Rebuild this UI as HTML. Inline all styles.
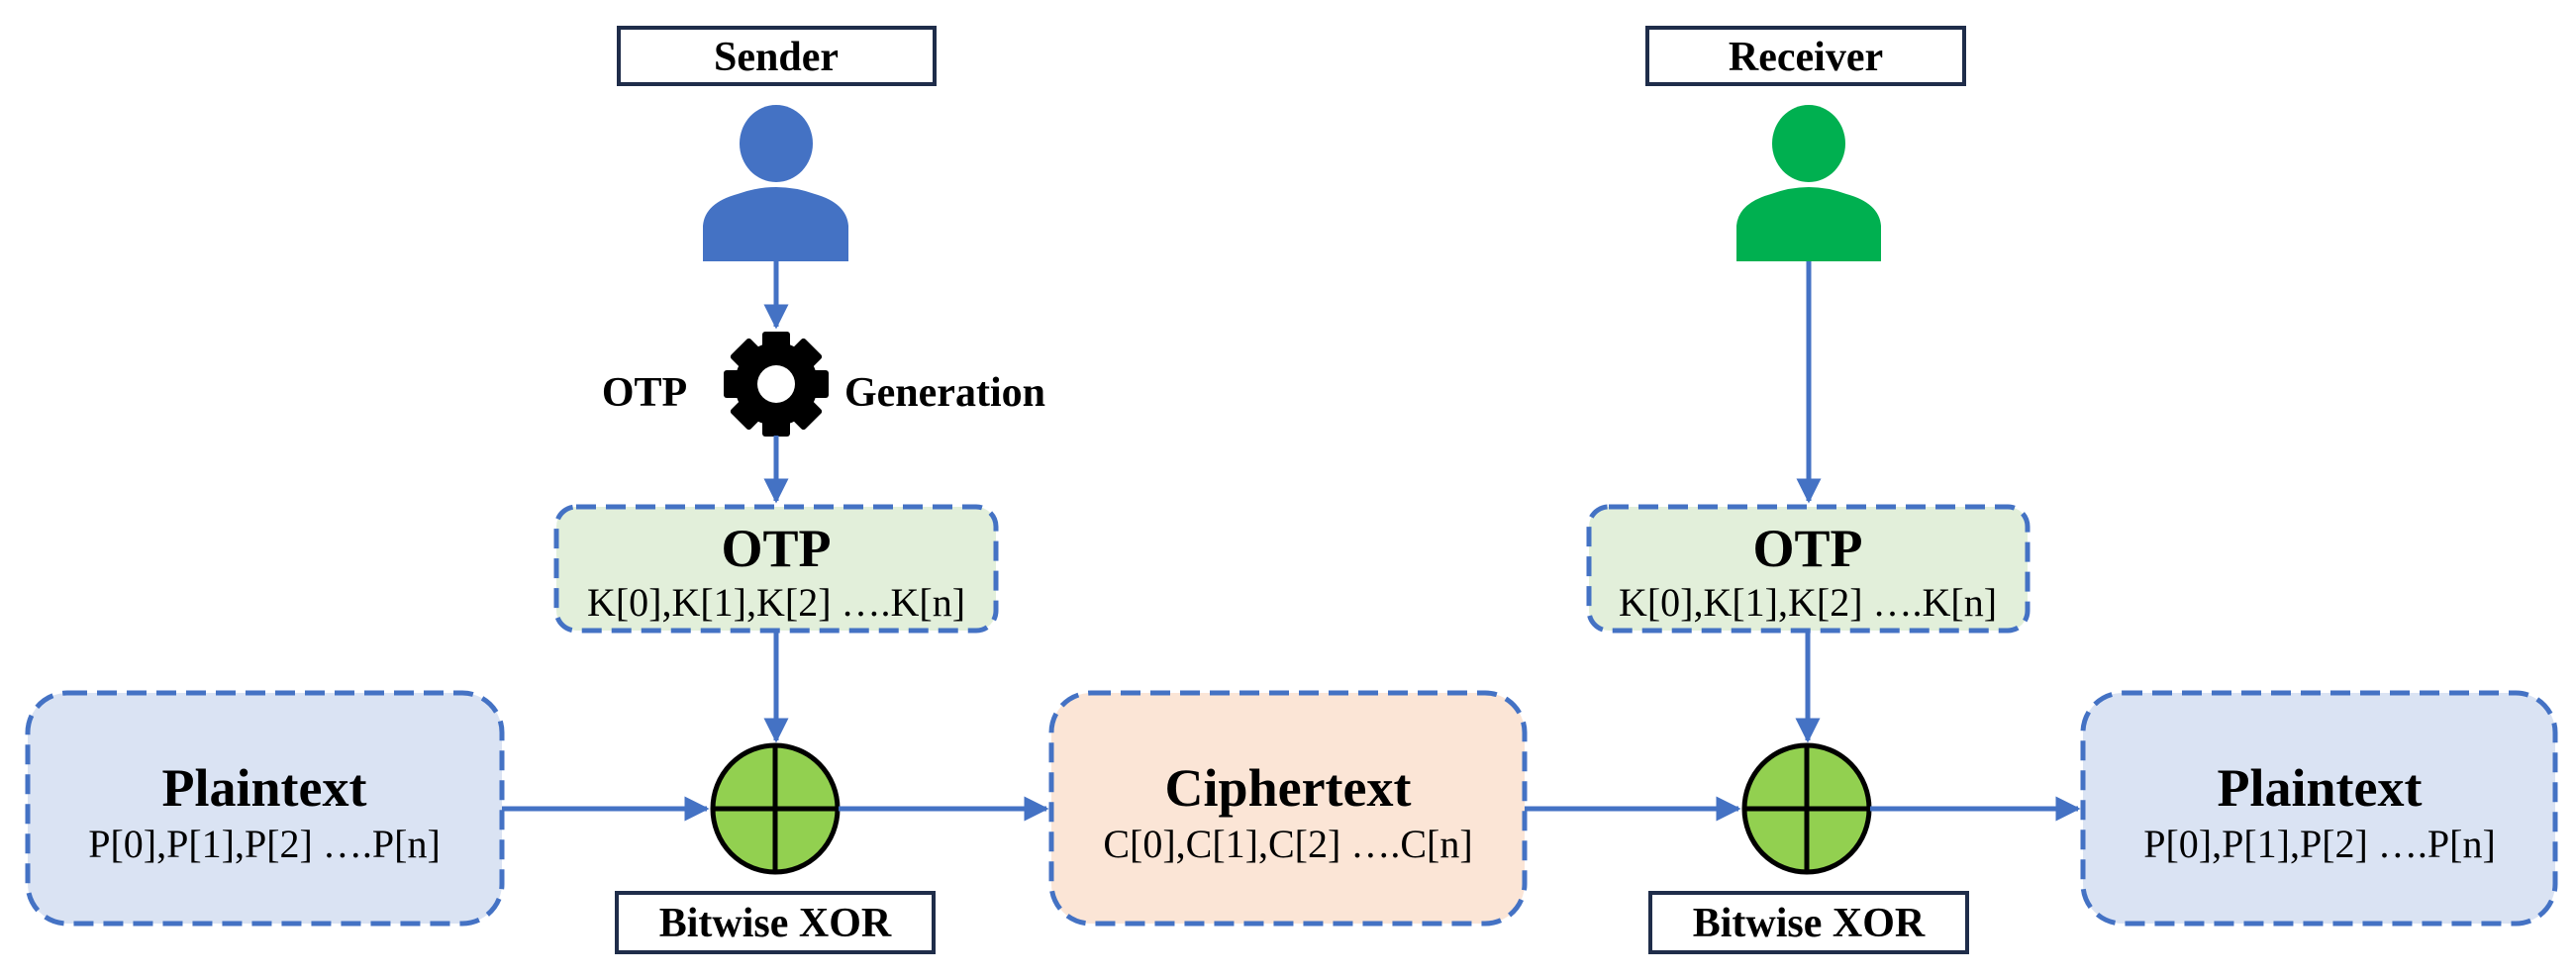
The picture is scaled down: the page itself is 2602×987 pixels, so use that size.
<!DOCTYPE html>
<html><head><meta charset="utf-8"><style>
html,body{margin:0;padding:0;background:#fff;}
svg{display:block;}
text{font-family:"Liberation Serif",serif;}
</style></head><body>
<svg width="2602" height="987" viewBox="0 0 2602 987" xmlns="http://www.w3.org/2000/svg">
<defs>
<marker id="ah" markerWidth="5" markerHeight="5" refX="4.5" refY="2.5" orient="auto" markerUnits="strokeWidth">
<path d="M0,0 L5,2.5 L0,5 z" fill="#4472c4"/>
</marker>
</defs>
<rect width="2602" height="987" fill="#fff"/>

<!-- Sender -->
<rect x="625" y="28" width="319" height="57" fill="#fff" stroke="#1f2d4a" stroke-width="4"/>
<text x="784" y="71" font-size="42" font-weight="bold" text-anchor="middle">Sender</text>
<ellipse cx="784" cy="145" rx="37" ry="39" fill="#4472c4"/>
<path d="M710,264 L710,228 Q712,205 745,196 Q784,182 823,196 Q855,205 857,228 L857,264 Z" fill="#4472c4"/>

<line x1="784" y1="264" x2="784" y2="330" stroke="#4472c4" stroke-width="5" marker-end="url(#ah)"/>

<!-- gear -->
<g transform="translate(784,388)">
<circle r="42" fill="#000"/>
<g fill="#000">
<rect x="-14" y="-53" width="28" height="106" rx="3"/>
<rect x="-14" y="-53" width="28" height="106" rx="3" transform="rotate(45)"/>
<rect x="-14" y="-53" width="28" height="106" rx="3" transform="rotate(90)"/>
<rect x="-14" y="-53" width="28" height="106" rx="3" transform="rotate(135)"/>
</g>
<circle r="19" fill="#fff"/>
</g>
<text x="651" y="410" font-size="42" font-weight="bold" text-anchor="middle">OTP</text>
<text x="853" y="410" font-size="42" font-weight="bold">Generation</text>

<line x1="784" y1="440" x2="784" y2="506" stroke="#4472c4" stroke-width="5" marker-end="url(#ah)"/>

<!-- OTP left -->
<rect x="562" y="512" width="444" height="125" rx="20" fill="#e2efda" stroke="#4472c4" stroke-width="5" stroke-dasharray="20 10"/>
<text x="784" y="572" font-size="54" font-weight="bold" text-anchor="middle">OTP</text>
<text x="784" y="622" font-size="40" text-anchor="middle">K[0],K[1],K[2] ….K[n]</text>

<line x1="784" y1="637" x2="784" y2="748" stroke="#4472c4" stroke-width="5" marker-end="url(#ah)"/>

<!-- Plaintext left -->
<rect x="28" y="700" width="479" height="233" rx="40" fill="#dae3f3" stroke="#4472c4" stroke-width="5" stroke-dasharray="20 10"/>
<text x="267" y="814" font-size="54" font-weight="bold" text-anchor="middle">Plaintext</text>
<text x="267" y="866" font-size="40" text-anchor="middle">P[0],P[1],P[2] ….P[n]</text>

<line x1="507" y1="817" x2="714" y2="817" stroke="#4472c4" stroke-width="5" marker-end="url(#ah)"/>

<!-- XOR left -->
<ellipse cx="783" cy="817" rx="63" ry="64" fill="#92d050" stroke="#000" stroke-width="5"/>
<line x1="720" y1="817" x2="846" y2="817" stroke="#000" stroke-width="5"/>
<line x1="783" y1="753" x2="783" y2="881" stroke="#000" stroke-width="5"/>
<rect x="623" y="902" width="320" height="60" fill="#fff" stroke="#1f2d4a" stroke-width="4"/>
<text x="783" y="946" font-size="42" font-weight="bold" text-anchor="middle">Bitwise XOR</text>

<line x1="847" y1="817" x2="1057" y2="817" stroke="#4472c4" stroke-width="5" marker-end="url(#ah)"/>

<!-- Ciphertext -->
<rect x="1062" y="700" width="478" height="233" rx="40" fill="#fbe5d6" stroke="#4472c4" stroke-width="5" stroke-dasharray="20 10"/>
<text x="1301" y="814" font-size="54" font-weight="bold" text-anchor="middle">Ciphertext</text>
<text x="1301" y="866" font-size="40" text-anchor="middle">C[0],C[1],C[2] ….C[n]</text>

<line x1="1540" y1="817" x2="1756" y2="817" stroke="#4472c4" stroke-width="5" marker-end="url(#ah)"/>

<!-- Receiver -->
<rect x="1664" y="28" width="320" height="57" fill="#fff" stroke="#1f2d4a" stroke-width="4"/>
<text x="1824" y="71" font-size="42" font-weight="bold" text-anchor="middle">Receiver</text>
<ellipse cx="1827" cy="145" rx="37" ry="39" fill="#00b050"/>
<path d="M1754,264 L1754,228 Q1756,205 1789,196 Q1827,182 1865,196 Q1898,205 1900,228 L1900,264 Z" fill="#00b050"/>

<line x1="1827" y1="264" x2="1827" y2="506" stroke="#4472c4" stroke-width="5" marker-end="url(#ah)"/>

<!-- OTP right -->
<rect x="1605" y="512" width="443" height="125" rx="20" fill="#e2efda" stroke="#4472c4" stroke-width="5" stroke-dasharray="20 10"/>
<text x="1826" y="572" font-size="54" font-weight="bold" text-anchor="middle">OTP</text>
<text x="1826" y="622" font-size="40" text-anchor="middle">K[0],K[1],K[2] ….K[n]</text>

<line x1="1826" y1="637" x2="1826" y2="748" stroke="#4472c4" stroke-width="5" marker-end="url(#ah)"/>

<!-- XOR right -->
<ellipse cx="1825" cy="817" rx="63" ry="64" fill="#92d050" stroke="#000" stroke-width="5"/>
<line x1="1762" y1="817" x2="1888" y2="817" stroke="#000" stroke-width="5"/>
<line x1="1825" y1="753" x2="1825" y2="881" stroke="#000" stroke-width="5"/>
<rect x="1667" y="902" width="320" height="60" fill="#fff" stroke="#1f2d4a" stroke-width="4"/>
<text x="1827" y="946" font-size="42" font-weight="bold" text-anchor="middle">Bitwise XOR</text>

<line x1="1889" y1="817" x2="2099" y2="817" stroke="#4472c4" stroke-width="5" marker-end="url(#ah)"/>

<!-- Plaintext right -->
<rect x="2104" y="700" width="477" height="233" rx="40" fill="#dae3f3" stroke="#4472c4" stroke-width="5" stroke-dasharray="20 10"/>
<text x="2343" y="814" font-size="54" font-weight="bold" text-anchor="middle">Plaintext</text>
<text x="2343" y="866" font-size="40" text-anchor="middle">P[0],P[1],P[2] ….P[n]</text>
</svg>
</body></html>
